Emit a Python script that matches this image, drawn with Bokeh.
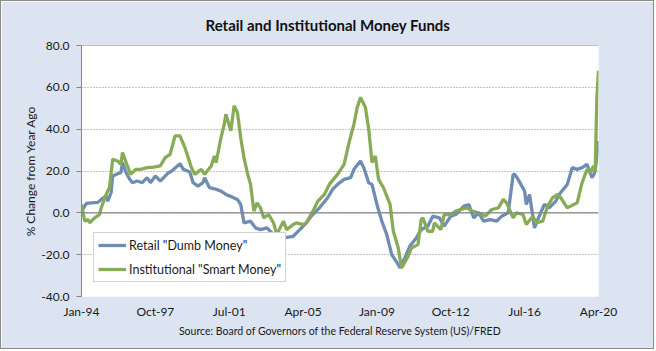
from bokeh.plotting import figure
from bokeh.models import FixedTicker, PrintfTickFormatter, Span, Legend, LegendItem, Title
from bokeh.embed import file_html
from bokeh.resources import INLINE

# months since Jan-1994 and % change from year ago
retail_month = [0, 3, 6, 10, 12, 15, 16, 18, 19, 22, 24, 25, 27, 29, 31, 34, 37, 40, 42, 45, 48, 53, 55, 60, 62, 66, 68, 71, 74, 75, 78, 81, 85, 88, 92, 95, 97, 99, 103, 106, 109, 113, 117, 123, 129, 133, 137, 140, 142, 145, 150, 153, 156, 160, 164, 166, 170, 172, 175, 177, 180, 183, 186, 189, 193, 194, 197, 200, 204, 207, 211, 214, 218, 221, 225, 228, 233, 236, 239, 242, 245, 249, 253, 256, 260, 263, 264, 266, 270, 271, 273, 276, 278, 282, 285, 289, 291, 296, 299, 302, 305, 308, 311, 312, 313, 315]
retail = [0.8, 4.5, 4.8, 5.0, 6.4, 8.0, 5.6, 9.6, 17.6, 18.7, 19.2, 24.0, 19.5, 16.5, 14.4, 15.2, 14.4, 16.8, 14.4, 17.6, 15.2, 19.2, 20.0, 23.5, 20.8, 19.5, 14.4, 12.8, 14.4, 16.8, 12.0, 11.5, 10.4, 8.8, 7.5, 6.4, 4.0, -4.8, -4.0, -7.2, -8.0, -7.2, -10.4, -12.0, -11.2, -8.0, -4.8, -1.6, 0.0, 2.4, 7.2, 11.2, 13.6, 16.0, 16.8, 20.8, 24.8, 21.6, 14.4, 13.6, 4.0, -4.0, -10.4, -20.0, -24.8, -26.4, -21.6, -16.0, -12.0, -8.0, -6.4, -1.6, -2.4, -6.4, -1.6, -0.8, 3.2, 4.0, -2.4, 0.0, -4.0, -3.2, -4.0, -1.6, 0.0, 18.4, 18.4, 16.0, 10.4, 4.0, 8.8, -7.2, -3.2, 4.0, 2.4, 5.6, 8.8, 13.6, 21.6, 20.8, 21.6, 23.2, 16.8, 18.0, 20.0, 34.4]

inst_month = [0, 2, 4, 5, 8, 11, 12, 15, 17, 18, 19, 22, 24, 25, 28, 30, 33, 36, 40, 44, 48, 51, 54, 57, 60, 63, 67, 69, 73, 75, 79, 81, 82, 85, 87, 88, 91, 93, 95, 97, 99, 101, 103, 105, 107, 109, 111, 114, 117, 119, 121, 123, 125, 129, 131, 135, 137, 141, 144, 148, 151, 156, 160, 163, 166, 168, 170, 173, 175, 177, 179, 181, 184, 188, 190, 193, 195, 199, 201, 205, 207, 208, 211, 214, 215, 219, 221, 225, 228, 231, 235, 238, 242, 246, 250, 254, 257, 259, 263, 265, 269, 271, 275, 277, 281, 284, 287, 290, 292, 296, 298, 302, 305, 308, 310, 312, 313, 314, 315]
inst = [4.0, -4.0, -3.2, -4.8, -2.4, -0.8, 2.4, 8.8, 12.0, 18.4, 25.6, 24.8, 23.2, 28.8, 22.4, 18.4, 20.8, 20.8, 21.6, 21.9, 22.4, 26.4, 28.0, 36.8, 36.8, 31.2, 21.6, 18.4, 20.8, 18.4, 22.4, 27.2, 24.0, 36.0, 42.4, 47.2, 39.2, 51.2, 48.0, 36.0, 26.4, 19.2, 13.6, 0.8, 4.8, 2.4, -2.4, -0.8, -4.8, -10.4, -7.2, -4.0, -8.0, -5.6, -4.8, -5.6, -4.8, 0.8, 5.6, 8.8, 13.6, 18.4, 23.2, 33.6, 42.4, 50.4, 55.2, 50.4, 40.0, 24.0, 27.2, 16.0, 12.0, 4.0, -8.8, -16.8, -26.4, -20.8, -16.8, -15.2, -3.2, -2.4, -8.8, -8.8, -4.8, -8.0, -0.8, -0.8, 0.8, 1.6, 2.4, 0.8, 0.0, -1.6, 1.6, 2.4, 6.4, 4.8, -2.4, 0.0, -0.8, -5.6, -1.6, -4.8, -4.0, 3.2, 7.2, 8.8, 7.2, 2.4, 3.2, 4.8, 14.4, 20.8, 19.2, 22.4, 20.0, 55.0, 68.0]

tick_months = [0, 45, 90, 135, 180, 225, 270, 315]
tick_labels = ["Jan-94", "Oct-97", "Jul-01", "Apr-05", "Jan-09", "Oct-12", "Jul-16", "Apr-20"]
y_ticks = [-40, -20, 0, 20, 40, 60, 80]

FONT = "Lato"
GRAY = "#868686"
BG = "#dbe4f0"
TXT = "#1a1a1a"

p = figure(width=654, height=349, x_range=(0, 315), y_range=(-40, 80),
           output_backend="svg", toolbar_location=None,
           min_border_left=80, min_border_right=57, min_border_top=44, min_border_bottom=54)
p.styles = {"border": "1px solid #8a8a8a"}
p.border_fill_color = BG
p.background_fill_color = "white"
p.outline_line_color = None

p.title = Title(text="Retail and Institutional Money Funds", align="left", offset=124,
                text_font=FONT, text_font_size="15px", text_font_style="bold",
                text_color="#111111", standoff=24)

# axes
p.xaxis.ticker = FixedTicker(ticks=tick_months)
p.xaxis.major_label_overrides = {m: l for m, l in zip(tick_months, tick_labels)}
p.xaxis.axis_line_color = None
p.xaxis.major_tick_line_color = None
p.xaxis.minor_tick_line_color = None
p.xaxis.major_tick_out = 0
p.xaxis.major_label_standoff = 7
p.xaxis.major_label_text_font = FONT
p.xaxis.major_label_text_font_size = "12px"
p.xaxis.major_label_text_color = TXT
p.xaxis.axis_label = "Source: Board of Governors of the Federal Reserve System (US)/FRED"
p.xaxis.axis_label_text_font = FONT
p.xaxis.axis_label_text_font_style = "normal"
p.xaxis.axis_label_text_font_size = "10.5px"
p.xaxis.axis_label_text_color = TXT
p.xaxis.axis_label_standoff = 3

p.yaxis.ticker = FixedTicker(ticks=y_ticks)
p.yaxis.formatter = PrintfTickFormatter(format="%.1f")
p.yaxis.axis_line_color = GRAY
p.yaxis.major_tick_line_color = GRAY
p.yaxis.major_tick_out = 5
p.yaxis.major_tick_in = 0
p.yaxis.minor_tick_line_color = None
p.yaxis.major_label_standoff = 7
p.yaxis.major_label_text_font = FONT
p.yaxis.major_label_text_font_size = "12px"
p.yaxis.major_label_text_color = TXT
p.yaxis.axis_label = "% Change from Year Ago"
p.yaxis.axis_label_text_font = FONT
p.yaxis.axis_label_text_font_style = "normal"
p.yaxis.axis_label_text_font_size = "12px"
p.yaxis.axis_label_text_color = TXT
p.yaxis.axis_label_standoff = 0

p.xgrid.grid_line_color = None
p.ygrid.ticker = FixedTicker(ticks=y_ticks)
p.ygrid.grid_line_color = GRAY
p.ygrid.grid_line_dash = "1 2"
p.ygrid.grid_line_width = 1

p.add_layout(Span(location=0, dimension="width", line_color=GRAY, line_width=1.2))
p.add_layout(Span(location=80, dimension="width", line_color=GRAY, line_width=1.2))

r1 = p.line(retail_month, retail, line_color="#6f8db0", line_width=3.3)
r2 = p.line(inst_month, inst, line_color="#88ab57", line_width=3.3)

legend = Legend(items=[LegendItem(label='Retail "Dumb Money"', renderers=[r1]),
                       LegendItem(label='Institutional "Smart Money"', renderers=[r2])],
                location=(12, 14), orientation="vertical")
legend.label_text_font = FONT
legend.label_text_font_size = "12.5px"
legend.label_text_color = TXT
legend.border_line_color = "#a6a6a6"
legend.background_fill_color = "white"
legend.background_fill_alpha = 1
legend.padding = 4
legend.spacing = 8
legend.margin = 0
legend.glyph_width = 28
legend.glyph_height = 16
legend.label_height = 16
legend.label_standoff = 3
p.add_layout(legend, "center")

open("out.html", "w").write(file_html(p, INLINE))
